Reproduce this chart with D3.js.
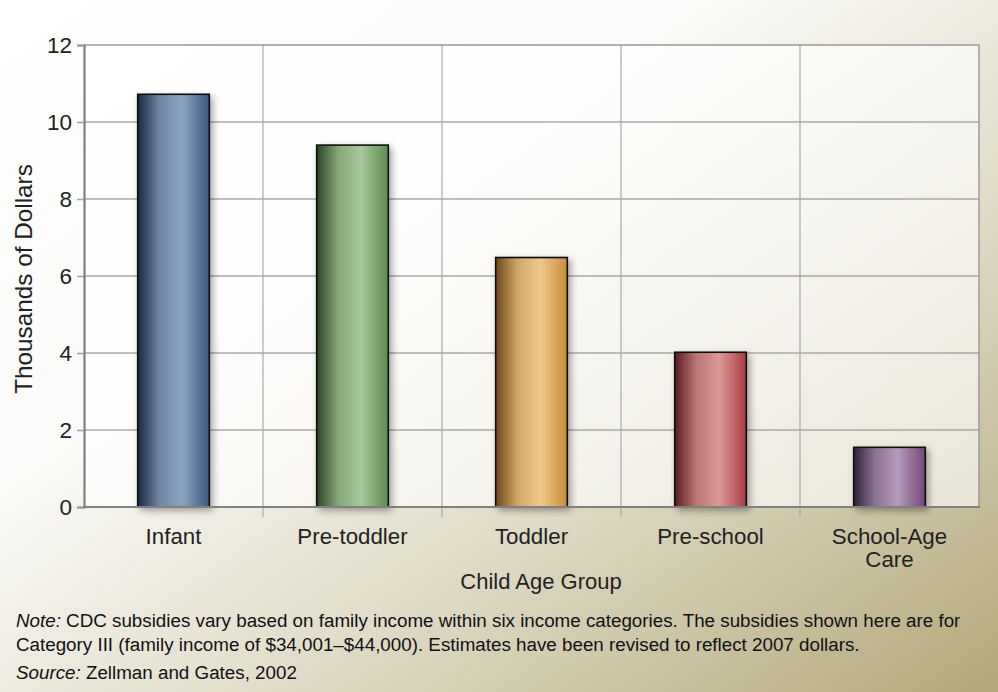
<!DOCTYPE html>
<html>
<head>
<meta charset="utf-8">
<script src="https://cdnjs.cloudflare.com/ajax/libs/d3/7.8.5/d3.min.js"></script>
<style>
  html, body { margin: 0; padding: 0; background: #fff; }
  svg { display: block; font-family: "Liberation Sans", Arial, Helvetica, sans-serif; }
</style>
</head>
<body>
<svg id="chart" width="998" height="692"></svg>
<script>
// ---- data ----
const categories = ["Infant", "Pre-toddler", "Toddler", "Pre-school", "School-Age Care"];
const categoryLines = [["Infant"], ["Pre-toddler"], ["Toddler"], ["Pre-school"], ["School-Age", "Care"]];
const subsidies = [10.72, 9.4, 6.48, 4.02, 1.55]; // thousands of dollars
const yTicks = [0, 2, 4, 6, 8, 10, 12];
const yTitle = "Thousands of Dollars";
const xTitle = "Child Age Group";
const noteLines = [
  ["Note:", " CDC subsidies vary based on family income within six income categories. The subsidies shown here are for"],
  ["", "Category III (family income of $34,001\u2013$44,000). Estimates have been revised to reflect 2007 dollars."]
];
const sourceLine = ["Source:", " Zellman and Gates, 2002"];

// bar palettes: [left dark, mid, light, right]
const palettes = [
  ["#1b283d", "#6f86a4", "#8ba4c1", "#3a577e"],
  ["#2c4325", "#86a877", "#a8c899", "#5b8c4e"],
  ["#6a4718", "#d1a667", "#f0c98a", "#c78c3b"],
  ["#571c1e", "#bc7474", "#dc9898", "#a93c3e"],
  ["#2e2139", "#8c7392", "#b59bb9", "#734678"]
];

// ---- layout ----
const W = 998, H = 692;
const plot = { left: 84, right: 979, top: 45, bottom: 507 };

const svg = d3.select("#chart");
const defs = svg.append("defs");

// background gradient
const bg = defs.append("linearGradient").attr("id", "bg")
  .attr("x1", "0").attr("y1", "0").attr("x2", "1").attr("y2", "1");
bg.append("stop").attr("offset", "0").attr("stop-color", "#ffffff");
bg.append("stop").attr("offset", "0.35").attr("stop-color", "#fbfbf9");
bg.append("stop").attr("offset", "0.62").attr("stop-color", "#e2decb");
bg.append("stop").attr("offset", "1").attr("stop-color", "#b3a87a");

svg.append("rect").attr("width", W).attr("height", H).attr("fill", "url(#bg)");

// plot backdrop
svg.append("rect")
  .attr("x", plot.left).attr("y", plot.top)
  .attr("width", plot.right - plot.left).attr("height", plot.bottom - plot.top)
  .attr("fill", "#ffffff").attr("fill-opacity", 0.62);

// shadow filter
const f = defs.append("filter").attr("id", "shadow")
  .attr("x", "-30%").attr("y", "-10%").attr("width", "160%").attr("height", "130%");
f.append("feDropShadow").attr("dx", 3).attr("dy", 3).attr("stdDeviation", 3.5)
  .attr("flood-color", "#000").attr("flood-opacity", 0.35);

palettes.forEach((p, i) => {
  const g = defs.append("linearGradient").attr("id", "bar" + i)
    .attr("x1", "0").attr("y1", "0").attr("x2", "1").attr("y2", "0");
  g.append("stop").attr("offset", "0").attr("stop-color", p[0]);
  g.append("stop").attr("offset", "0.3").attr("stop-color", p[1]);
  g.append("stop").attr("offset", "0.62").attr("stop-color", p[2]);
  g.append("stop").attr("offset", "1").attr("stop-color", p[3]);
});

// ---- scales ----
const x = d3.scaleBand().domain(categories).range([plot.left, plot.right]).padding(0);
const y = d3.scaleLinear().domain([0, 12]).range([plot.bottom, plot.top]);

// horizontal gridlines
svg.append("g").selectAll("line").data(yTicks.filter(t => t > 0 && t < 12)).join("line")
  .attr("x1", plot.left).attr("x2", plot.right)
  .attr("y1", d => y(d)).attr("y2", d => y(d))
  .attr("stroke", "#a9a9a9").attr("stroke-width", 1.5);

// vertical gridlines (category boundaries)
const bounds = categories.slice(1).map(c => x(c));
svg.append("g").selectAll("line").data(bounds).join("line")
  .attr("x1", d => d).attr("x2", d => d)
  .attr("y1", plot.top).attr("y2", plot.bottom + 10)
  .attr("stroke", "#a9a9a9").attr("stroke-width", 1.2);

// frame top/right
svg.append("path")
  .attr("d", `M${plot.left},${plot.top}H${plot.right}V${plot.bottom}`)
  .attr("fill", "none").attr("stroke", "#9a9a9a").attr("stroke-width", 1.5);

// bars
const bw = x.bandwidth() * 0.4;
svg.append("g").selectAll("rect").data(subsidies).join("rect")
  .attr("x", (d, i) => x(categories[i]) + (x.bandwidth() - bw) / 2)
  .attr("y", d => y(d))
  .attr("width", bw)
  .attr("height", d => y(0) - y(d))
  .attr("fill", (d, i) => `url(#bar${i})`)
  .attr("stroke", "#111").attr("stroke-width", 1.6)
  .attr("filter", "url(#shadow)");

// y axis
const yAxis = d3.axisLeft(y).tickValues(yTicks).tickSize(7).tickPadding(5).tickFormat(d3.format("d"));
const yg = svg.append("g").attr("transform", `translate(${plot.left},0)`).call(yAxis);
yg.select(".domain").attr("stroke", "#808080").attr("stroke-width", 2.2);
yg.selectAll(".tick line").attr("stroke", "#a0a0a0").attr("stroke-width", 1.5);
yg.selectAll(".tick text").attr("font-size", 22.5).attr("fill", "#222")
  .attr("font-family", "Liberation Sans, Arial, sans-serif");

// x axis baseline
svg.append("line")
  .attr("x1", plot.left - 1).attr("x2", plot.right + 1)
  .attr("y1", plot.bottom).attr("y2", plot.bottom)
  .attr("stroke", "#808080").attr("stroke-width", 2.2);

// category labels
const cl = svg.append("g").selectAll("text").data(categoryLines).join("text")
  .attr("x", (d, i) => x(categories[i]) + x.bandwidth() / 2)
  .attr("y", 544)
  .attr("text-anchor", "middle")
  .attr("font-size", 22.3).attr("fill", "#222");
cl.selectAll("tspan").data(d => d).join("tspan")
  .attr("x", function () { return d3.select(this.parentNode).attr("x"); })
  .attr("dy", (d, i) => i === 0 ? 0 : 23)
  .text(d => d);

// axis titles
svg.append("text").attr("x", 541).attr("y", 589).attr("text-anchor", "middle")
  .attr("font-size", 22).attr("fill", "#222").text(xTitle);
svg.append("text").attr("transform", "translate(32,279) rotate(-90)")
  .attr("text-anchor", "middle").attr("font-size", 24.3).attr("fill", "#222").text(yTitle);

// note + source
const notes = svg.append("g").attr("font-size", 18.8).attr("fill", "#111");
noteLines.forEach((ln, i) => {
  const t = notes.append("text").attr("x", 16).attr("y", 627 + i * 24);
  if (ln[0]) t.append("tspan").attr("font-style", "italic").text(ln[0]);
  t.append("tspan").text(ln[1]);
});
const s = notes.append("text").attr("x", 16).attr("y", 679);
s.append("tspan").attr("font-style", "italic").text(sourceLine[0]);
s.append("tspan").text(sourceLine[1]);
</script>
</body>
</html>
